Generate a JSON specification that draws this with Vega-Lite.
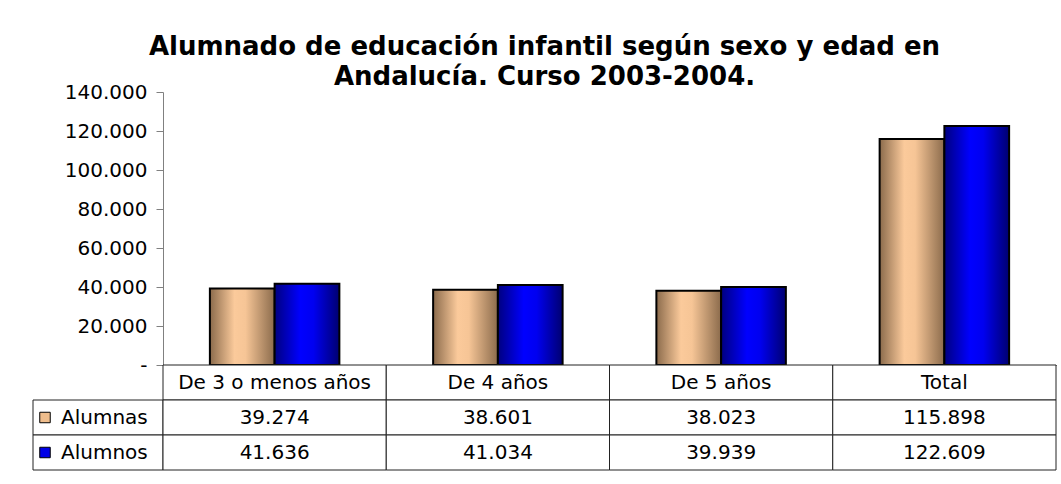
{
  "$schema": "https://vega.github.io/schema/vega-lite/v6.json",
  "background": "white",
  "padding": {"left": 32, "right": 6, "top": 34, "bottom": 5},
  "title": {
    "text": ["Alumnado de educación infantil según sexo y edad en", "Andalucía. Curso 2003-2004."],
    "font": "DejaVu Sans",
    "fontSize": 26,
    "fontWeight": "bold",
    "color": "black",
    "anchor": "middle",
    "lineHeight": 30,
    "offset": -8
  },
  "config": {
    "locale": {"number": {"decimal": ",", "thousands": ".", "grouping": [3], "currency": ["", " €"]}},
    "view": {"stroke": null},
    "font": "DejaVu Sans"
  },
  "datasets": {
    "datos": [
      {"categoria": "De 3 o menos años", "sexo": "Alumnas", "valor": 39274},
      {"categoria": "De 3 o menos años", "sexo": "Alumnos", "valor": 41636},
      {"categoria": "De 4 años", "sexo": "Alumnas", "valor": 38601},
      {"categoria": "De 4 años", "sexo": "Alumnos", "valor": 41034},
      {"categoria": "De 5 años", "sexo": "Alumnas", "valor": 38023},
      {"categoria": "De 5 años", "sexo": "Alumnos", "valor": 39939},
      {"categoria": "Total", "sexo": "Alumnas", "valor": 115898},
      {"categoria": "Total", "sexo": "Alumnos", "valor": 122609}
    ]
  },
  "columns": 2,
  "spacing": 0,
  "bounds": "flush",
  "resolve": {"scale": {"x": "independent", "y": "independent", "color": "independent", "xOffset": "independent"}},
  "concat": [
    {
      "width": 130,
      "height": 273,
      "data": {"values": []},
      "mark": "point"
    },
    {
      "width": 893,
      "height": 273,
      "data": {"name": "datos"},
      "encoding": {
        "x": {
          "field": "categoria",
          "type": "nominal",
          "sort": null,
          "scale": {"domain": ["De 3 o menos años", "De 4 años", "De 5 años", "Total"], "paddingInner": 0.42, "paddingOuter": 0.21},
          "axis": {"title": null, "labels": false, "ticks": false, "domainColor": "black", "domainWidth": 1}
        },
        "xOffset": {
          "field": "sexo",
          "type": "nominal",
          "scale": {"domain": ["Alumnas", "Alumnos"], "paddingInner": 0, "paddingOuter": 0}
        },
        "y": {
          "field": "valor",
          "type": "quantitative",
          "scale": {"domain": [0, 140000], "nice": false},
          "axis": {
            "title": null,
            "grid": false,
            "values": [0, 20000, 40000, 60000, 80000, 100000, 120000, 140000],
            "format": ",d",
            "labelExpr": "datum.value == 0 ? '-' : datum.label",
            "labelFont": "DejaVu Sans",
            "labelFontSize": 20,
            "labelColor": "black",
            "labelPadding": 9,
            "tickSize": 7,
            "tickColor": "#808080",
            "domainColor": "#808080"
          }
        }
      },
      "layer": [
        {
          "transform": [{"filter": "datum.sexo === 'Alumnas'"}],
          "mark": {
            "type": "bar",
            "stroke": "black",
            "strokeWidth": 2,
            "fill": {
              "gradient": "linear", "x1": 0, "y1": 0, "x2": 1, "y2": 0,
              "stops": [
                {"offset": 0, "color": "#8b6b4c"},
                {"offset": 0.38, "color": "#fbca9b"},
                {"offset": 0.55, "color": "#f6c596"},
                {"offset": 1, "color": "#8b6b4c"}
              ]
            }
          }
        },
        {
          "transform": [{"filter": "datum.sexo === 'Alumnos'"}],
          "mark": {
            "type": "bar",
            "stroke": "black",
            "strokeWidth": 2,
            "fill": {
              "gradient": "linear", "x1": 0, "y1": 0, "x2": 1, "y2": 0,
              "stops": [
                {"offset": 0, "color": "#000080"},
                {"offset": 0.4, "color": "#0000ff"},
                {"offset": 0.6, "color": "#0000f0"},
                {"offset": 1, "color": "#000070"}
              ]
            }
          }
        }
      ]
    },
    {
      "width": 130,
      "height": 105,
      "data": {"name": "datos"},
      "transform": [{"aggregate": [{"op": "count", "as": "n"}], "groupby": ["sexo"]}],
      "encoding": {
        "y": {
          "field": "sexo",
          "type": "nominal",
          "scale": {"domain": ["cabecera", "Alumnas", "Alumnos"], "paddingInner": 0, "paddingOuter": 0},
          "axis": null
        }
      },
      "layer": [
        {"mark": {"type": "rect", "fill": "white", "stroke": "#222", "strokeWidth": 1}},
        {
          "mark": {"type": "point", "shape": "square", "size": 110, "filled": true, "stroke": "black", "strokeWidth": 1, "opacity": 1, "xOffset": -53},
          "encoding": {
            "color": {
              "field": "sexo",
              "type": "nominal",
              "scale": {"domain": ["Alumnas", "Alumnos"], "range": ["#efbd8c", "#0000e6"]},
              "legend": null
            }
          }
        },
        {
          "mark": {"type": "text", "align": "left", "baseline": "middle", "dx": -37, "font": "DejaVu Sans", "fontSize": 20, "color": "black"},
          "encoding": {"text": {"field": "sexo"}}
        }
      ]
    },
    {
      "width": 893,
      "height": 105,
      "data": {"name": "datos"},
      "encoding": {
        "x": {
          "field": "categoria",
          "type": "nominal",
          "sort": null,
          "scale": {"domain": ["De 3 o menos años", "De 4 años", "De 5 años", "Total"], "paddingInner": 0, "paddingOuter": 0},
          "axis": null
        }
      },
      "layer": [
        {
          "transform": [{"aggregate": [{"op": "count", "as": "n"}], "groupby": ["categoria"]}],
          "mark": {"type": "rect", "fill": "white", "stroke": "#222", "strokeWidth": 1},
          "encoding": {
            "y": {"datum": "cabecera", "type": "nominal", "scale": {"domain": ["cabecera", "Alumnas", "Alumnos"], "paddingInner": 0, "paddingOuter": 0}, "axis": null}
          }
        },
        {
          "transform": [{"aggregate": [{"op": "count", "as": "n"}], "groupby": ["categoria"]}],
          "mark": {"type": "text", "baseline": "middle", "font": "DejaVu Sans", "fontSize": 20, "color": "black"},
          "encoding": {
            "y": {"datum": "cabecera", "type": "nominal"},
            "text": {"field": "categoria"}
          }
        },
        {
          "mark": {"type": "rect", "fill": "white", "stroke": "#222", "strokeWidth": 1},
          "encoding": {"y": {"field": "sexo", "type": "nominal"}}
        },
        {
          "mark": {"type": "text", "baseline": "middle", "font": "DejaVu Sans", "fontSize": 20, "color": "black"},
          "encoding": {
            "y": {"field": "sexo", "type": "nominal"},
            "text": {"field": "valor", "type": "quantitative", "format": ",d"}
          }
        }
      ]
    }
  ]
}
